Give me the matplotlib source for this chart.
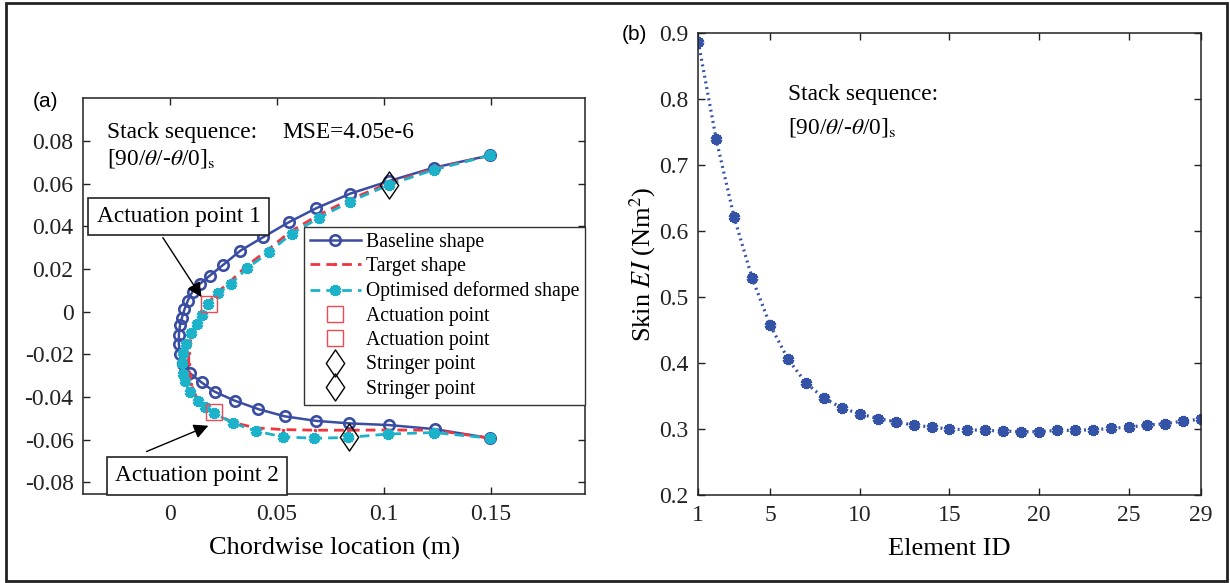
import numpy as np
import matplotlib
matplotlib.use("Agg")
import matplotlib.pyplot as plt
from matplotlib.path import Path
from matplotlib.patches import Rectangle

plt.rcParams['font.family'] = ['Liberation Serif', 'DejaVu Serif']
plt.rcParams['mathtext.fontset'] = 'stix'
plt.rcParams['axes.unicode_minus'] = False

# ---------------- panel (a): aerofoil skin shapes ----------------
baseline_x = [0.1495, 0.1235, 0.1025, 0.0843, 0.0685, 0.0556, 0.0436, 0.0330, 0.0249,
              0.0187, 0.0140, 0.0106, 0.0084, 0.0068, 0.0056, 0.0047, 0.0042, 0.0042,
              0.0047, 0.0062, 0.0093, 0.0148, 0.0210, 0.0304, 0.0413, 0.0537, 0.0681,
              0.0838, 0.1025, 0.1238, 0.1495]
baseline_y = [0.0732, 0.0675, 0.0612, 0.0553, 0.0485, 0.0419, 0.0349, 0.0286, 0.0219,
              0.0169, 0.0130, 0.0094, 0.0052, 0.0010, -0.0030, -0.0065, -0.0108, -0.0153,
              -0.0199, -0.0245, -0.0288, -0.0332, -0.0376, -0.0418, -0.0457, -0.0491,
              -0.0512, -0.0524, -0.0532, -0.0551, -0.0593]

target_x = [0.1495, 0.1235, 0.1022, 0.0838, 0.0690, 0.0562, 0.0456, 0.0356, 0.0281,
            0.0224, 0.0178, 0.0150, 0.0128, 0.0108, 0.0094, 0.0088, 0.0088, 0.0092,
            0.0100, 0.0118, 0.0150, 0.0204, 0.0295, 0.0402, 0.0527, 0.0678, 0.0835,
            0.1020, 0.1238, 0.1495]
target_y = [0.0732, 0.0670, 0.0601, 0.0524, 0.0450, 0.0374, 0.0288, 0.0212, 0.0140,
            0.0092, 0.0040, -0.0005, -0.0050, -0.0095, -0.0145, -0.0195, -0.0245, -0.0295,
            -0.0340, -0.0390, -0.0432, -0.0473, -0.0520, -0.0545, -0.0553, -0.0556,
            -0.0556, -0.0555, -0.0556, -0.0593]

optimised_x = [0.1495, 0.1235, 0.1025, 0.0843, 0.0698, 0.0569, 0.0463, 0.0361, 0.0285,
               0.0226, 0.0178, 0.0148, 0.0125, 0.0097, 0.0075, 0.0062, 0.0056, 0.0062,
               0.0070, 0.0093, 0.0132, 0.0164, 0.0204, 0.0294, 0.0402, 0.0527, 0.0676,
               0.0833, 0.1019, 0.1233, 0.1495]
optimised_y = [0.0732, 0.0665, 0.0595, 0.0516, 0.0440, 0.0365, 0.0278, 0.0203, 0.0130,
               0.0085, 0.0034, -0.0014, -0.0058, -0.0102, -0.0152, -0.0196, -0.0243,
               -0.0292, -0.0327, -0.0379, -0.0418, -0.0449, -0.0476, -0.0522, -0.0560,
               -0.0587, -0.0594, -0.0590, -0.0574, -0.0567, -0.0593]

actuation_x = [0.0184, 0.0204]
actuation_y = [0.0036, -0.0473]
stringer_x = [0.1025, 0.0836]
stringer_y = [0.0595, -0.0588]

# ---------------- panel (b): skin bending stiffness ----------------
element_id = list(range(1, 30))
skin_ei = [0.887, 0.739, 0.621, 0.529, 0.458, 0.406, 0.370, 0.347, 0.332, 0.323,
           0.316, 0.311, 0.306, 0.303, 0.300, 0.299, 0.298, 0.297, 0.296, 0.296,
           0.298, 0.298, 0.299, 0.301, 0.303, 0.306, 0.308, 0.312, 0.315]

blue = '#3A4DA2'
red = '#EE3540'
cyan = '#1CB3CA'
sq_red = '#EE4A55'
blue_b = '#3553A6'

asterisk = (6, 2, 0)
diamond = Path([(0, 1), (0.68, 0), (0, -1), (-0.68, 0), (0, 1)],
               [Path.MOVETO, Path.LINETO, Path.LINETO, Path.LINETO, Path.CLOSEPOLY])

fig = plt.figure(figsize=(12.3, 5.83), dpi=100)

# ---- left axes ----
ax = fig.add_axes([0.0677, 0.1527, 0.4081, 0.6787])
ax.plot(baseline_x, baseline_y, '-', color=blue, lw=1.8, marker='o', ms=7.5,
        mfc='none', mec=blue, mew=1.9, label='Baseline shape')
ax.plot(target_x, target_y, color=red, lw=2.0, dashes=(3.5, 2.2), marker='.', ms=3,
        label='Target shape')
ax.plot(optimised_x, optimised_y, color=cyan, lw=2.0, dashes=(3.5, 2.2),
        marker=asterisk, ms=8, mew=3.0, mec=cyan, mfc=cyan,
        label='Optimised deformed shape')
for i in range(2):
    ax.plot(actuation_x[i], actuation_y[i], 's', ms=11, mfc='none', mec=sq_red,
            mew=1.0, label='Actuation point')
for i in range(2):
    ax.plot(stringer_x[i], stringer_y[i], marker=diamond, ms=19.5, mfc='none', mec='k',
            mew=1.0, ls='none', label='Stringer point')

ax.set_xlim(-0.0405, 0.1942)
ax.set_ylim(-0.0855, 0.1)
ax.set_xticks([0, 0.05, 0.1, 0.15])
ax.set_xticklabels(['0', '0.05', '0.1', '0.15'])
ax.set_yticks(np.arange(-0.08, 0.081, 0.02))
ax.set_yticklabels(['-0.08', '-0.06', '-0.04', '-0.02', '0', '0.02', '0.04', '0.06', '0.08'])
ax.tick_params(direction='in', top=True, right=True, labelsize=17, length=5,
               width=1.0, colors='#222222', pad=7)
for s in ax.spines.values():
    s.set_linewidth(1.1)
    s.set_color('#222222')
ax.set_xlabel('Chordwise location (m)', fontsize=19, labelpad=9)

leg = ax.legend(loc='upper right', bbox_to_anchor=(1.0, 0.6748), borderaxespad=0,
                fontsize=14.2, handlelength=2.6, handletextpad=0.25, labelspacing=0.27,
                borderpad=0.3, fancybox=False, framealpha=1, edgecolor='#333333')
leg.get_frame().set_linewidth(1.0)

ax.text(-0.0294, 0.0812, 'Stack sequence:', fontsize=16.8, va='baseline', ha='left')
ax.text(-0.0294, 0.0689, r'[90/$\theta$/-$\theta$/0]$_{\rm s}$', fontsize=16.8,
        va='baseline', ha='left')
ax.text(0.0528, 0.0812, 'MSE=4.05e-6', fontsize=16.8, va='baseline', ha='left')

box = dict(boxstyle='square,pad=0.36', fc='white', ec='#222222', lw=1.2)
ax.text(0.0040, 0.0446, 'Actuation point 1', fontsize=16.8, ha='center', va='center',
        bbox=box, zorder=6)
ax.annotate('', xy=(0.0148, 0.0068), xytext=(-0.0033, 0.0347),
            arrowprops=dict(arrowstyle='-|>', color='k', lw=1.0, mutation_scale=22,
                            shrinkA=0, shrinkB=0), zorder=6)
ax.text(0.0126, -0.0770, 'Actuation point 2', fontsize=16.8, ha='center', va='center',
        bbox=box, zorder=6, clip_on=False)
ax.annotate('', xy=(0.0180, -0.0535), xytext=(-0.0109, -0.0656),
            arrowprops=dict(arrowstyle='-|>', color='k', lw=1.0, mutation_scale=22,
                            shrinkA=0, shrinkB=0), zorder=6)

fig.text(33 / 1230, 1 - 102 / 583, '(a)', fontsize=15, family='Liberation Sans',
         ha='left', va='center')

# ---- right axes ----
bx = fig.add_axes([0.5677, 0.1509, 0.4085, 0.792])
bx.plot(element_id, skin_ei, color=blue_b, lw=2.3, ls=(0, (0.6, 1.2)),
        marker=asterisk, ms=8, mew=3.0, mec=blue_b, mfc=blue_b)
bx.set_xlim(1, 29)
bx.set_ylim(0.2, 0.9)
bx.set_xticks([1, 5, 10, 15, 20, 25, 29])
bx.set_yticks(np.arange(0.2, 0.91, 0.1))
bx.set_yticklabels(['0.2', '0.3', '0.4', '0.5', '0.6', '0.7', '0.8', '0.9'])
bx.tick_params(direction='in', top=True, right=True, labelsize=17, length=5,
               width=1.0, colors='#222222', pad=7)
for s in bx.spines.values():
    s.set_linewidth(1.1)
    s.set_color('#222222')
bx.set_xlabel('Element ID', fontsize=19, labelpad=9)
bx.set_ylabel(r'Skin $\mathit{EI}$ (Nm$^2$)', fontsize=19, labelpad=1)
bx.text(6.0, 0.799, 'Stack sequence:', fontsize=16.8, va='baseline', ha='left')
bx.text(6.0, 0.748, r'[90/$\theta$/-$\theta$/0]$_{\rm s}$', fontsize=16.8,
        va='baseline', ha='left')
fig.text(622 / 1230, 1 - 35 / 583, '(b)', fontsize=15, family='Liberation Sans',
         ha='left', va='center')

# outer frame around the whole figure
fig.patches.append(Rectangle((6 / 1230, 2 / 583), 1221 / 1230, 578 / 583,
                             transform=fig.transFigure, fill=False, ec='#222222',
                             lw=2.0))

fig.savefig('out.png', dpi=100)
